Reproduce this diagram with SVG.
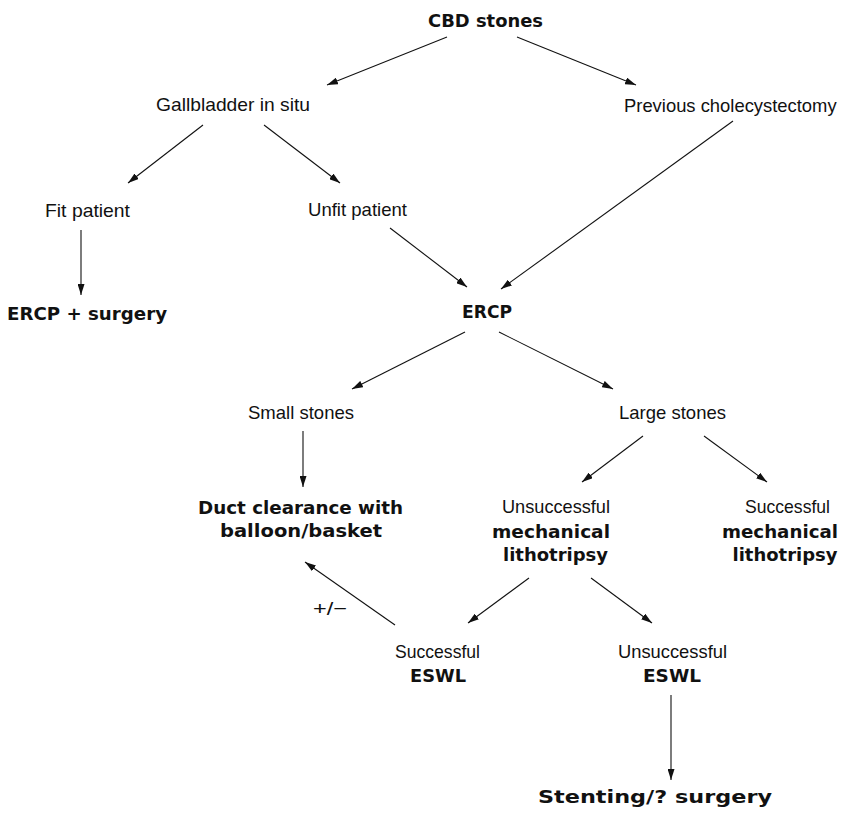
<svg xmlns="http://www.w3.org/2000/svg" width="842" height="816" viewBox="0 0 842 816">
<defs>
<marker id="ah" viewBox="0 0 11 7" refX="11" refY="3.5" markerWidth="11" markerHeight="7" markerUnits="userSpaceOnUse" orient="auto">
<path d="M0,0 L11,3.5 L0,7 Z" fill="#111"/>
</marker>
<style>
.r{font-family:"Liberation Sans",Arial,sans-serif;font-size:19px;fill:#111;text-anchor:middle}
.b{font-family:"DejaVu Sans",Verdana,sans-serif;font-weight:bold;font-size:18px;fill:#111;text-anchor:middle}
#edges line{stroke:#111;stroke-width:1.1;marker-end:url(#ah)}
</style>
</defs>
<rect width="842" height="816" fill="#fff"/>
<g id="edges">
<line x1="447" y1="37" x2="327" y2="85"/>
<line x1="517" y1="37" x2="636" y2="85"/>
<line x1="203" y1="125" x2="128" y2="183"/>
<line x1="264" y1="125" x2="340" y2="183"/>
<line x1="81" y1="230" x2="81" y2="295"/>
<line x1="390" y1="228" x2="467" y2="287"/>
<line x1="733" y1="121" x2="501" y2="289"/>
<line x1="465" y1="332" x2="352" y2="389"/>
<line x1="499" y1="332" x2="613" y2="389"/>
<line x1="303" y1="431" x2="303" y2="487"/>
<line x1="643" y1="436" x2="582" y2="482"/>
<line x1="704" y1="436" x2="767" y2="482"/>
<line x1="529" y1="578" x2="468" y2="623"/>
<line x1="591" y1="578" x2="652" y2="623"/>
<line x1="395" y1="625" x2="305" y2="562"/>
<line x1="671" y1="695" x2="671" y2="780"/>
</g>
<g id="n-cbd"><text class="b" x="485.5" y="27" textLength="115" lengthAdjust="spacingAndGlyphs">CBD stones</text></g>
<g id="n-gallbladder"><text class="r" x="233" y="111" textLength="154" lengthAdjust="spacingAndGlyphs">Gallbladder in situ</text></g>
<g id="n-previous"><text class="r" x="624" y="112" style="text-anchor:start;font-size:18.4px">Previous cholecystectomy</text></g>
<g id="n-fit"><text class="r" x="87.5" y="217" textLength="85" lengthAdjust="spacingAndGlyphs">Fit patient</text></g>
<g id="n-unfit"><text class="r" x="357.5" y="216" textLength="99" lengthAdjust="spacingAndGlyphs">Unfit patient</text></g>
<g id="n-ercp-surgery"><text class="b" x="87" y="320" textLength="160" lengthAdjust="spacingAndGlyphs">ERCP + surgery</text></g>
<g id="n-ercp"><text class="b" x="487" y="318" textLength="50" lengthAdjust="spacingAndGlyphs">ERCP</text></g>
<g id="n-small"><text class="r" x="301" y="419" textLength="106" lengthAdjust="spacingAndGlyphs">Small stones</text></g>
<g id="n-large"><text class="r" x="672.5" y="419" textLength="107" lengthAdjust="spacingAndGlyphs">Large stones</text></g>
<g id="n-duct">
<text class="b" x="300.5" y="514" textLength="205" lengthAdjust="spacingAndGlyphs">Duct clearance with</text>
<text class="b" x="301" y="537" textLength="162" lengthAdjust="spacingAndGlyphs">balloon/basket</text>
</g>
<g id="n-unsucc-mech">
<text class="r" x="556" y="513" textLength="108" lengthAdjust="spacingAndGlyphs">Unsuccessful</text>
<text class="b" x="551" y="538" textLength="118" lengthAdjust="spacingAndGlyphs">mechanical</text>
<text class="b" x="555.5" y="561" textLength="105" lengthAdjust="spacingAndGlyphs">lithotripsy</text>
</g>
<g id="n-succ-mech">
<text class="r" x="787.5" y="513" textLength="85" lengthAdjust="spacingAndGlyphs">Successful</text>
<text class="b" x="780" y="538" textLength="116" lengthAdjust="spacingAndGlyphs">mechanical</text>
<text class="b" x="785" y="561" textLength="105" lengthAdjust="spacingAndGlyphs">lithotripsy</text>
</g>
<g id="n-pm"><text class="r" x="330" y="615" textLength="34" lengthAdjust="spacingAndGlyphs">+/−</text></g>
<g id="n-succ-eswl">
<text class="r" x="437.5" y="658" textLength="85" lengthAdjust="spacingAndGlyphs">Successful</text>
<text class="b" x="438" y="682" textLength="56" lengthAdjust="spacingAndGlyphs">ESWL</text>
</g>
<g id="n-unsucc-eswl">
<text class="r" x="672.5" y="658" textLength="109" lengthAdjust="spacingAndGlyphs">Unsuccessful</text>
<text class="b" x="672" y="682" textLength="58" lengthAdjust="spacingAndGlyphs">ESWL</text>
</g>
<g id="n-stenting"><text class="b" x="655" y="803" textLength="234" lengthAdjust="spacingAndGlyphs">Stenting/? surgery</text></g>
</svg>
